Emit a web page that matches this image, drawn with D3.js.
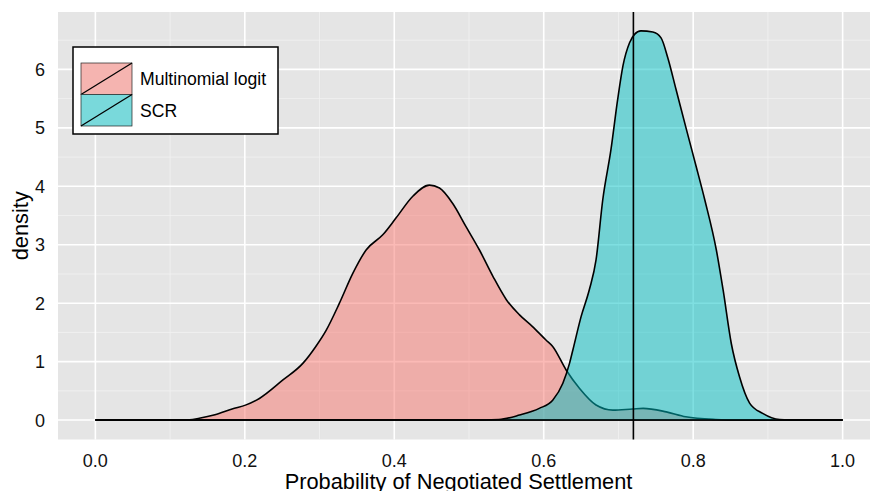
<!DOCTYPE html>
<html>
<head>
<meta charset="utf-8">
<script src="https://cdn.jsdelivr.net/npm/d3@7"></script>
<style>
  html, body { margin: 0; padding: 0; background: #fff; }
  svg { display: block; }
</style>
</head>
<body>
<svg id="chart" width="870" height="491"></svg>
<script>
// Density of predicted probability of negotiated settlement, two models
const seriesNames = ['Multinomial logit', 'SCR'];
const seriesColors = ['#F8766D', '#00BFC4'];

const mlX = [0, 0.10, 0.126, 0.139, 0.16, 0.183, 0.2017, 0.2195, 0.251, 0.2776, 0.295, 0.309,
  0.3266, 0.3445, 0.3623, 0.3846, 0.4025, 0.4248, 0.447, 0.4605, 0.478, 0.496, 0.514, 0.532,
  0.550, 0.5676, 0.585, 0.603, 0.612, 0.630, 0.648, 0.670, 0.6925, 0.719, 0.733, 0.764, 0.79,
  0.83, 0.86, 1.0];
const mlY = [0, 0, 0.005, 0.03, 0.09, 0.19, 0.26, 0.37, 0.686, 0.97, 1.26, 1.54,
  2.0, 2.51, 2.91, 3.17, 3.46, 3.83, 4.02, 3.97, 3.71, 3.31, 2.91, 2.46,
  2.06, 1.8, 1.6, 1.37, 1.26, 0.857, 0.54, 0.257, 0.17, 0.19, 0.20, 0.14, 0.057,
  0.01, 0, 0];

const scrX = [0, 0.50, 0.54, 0.5676, 0.594, 0.612, 0.6256, 0.6345, 0.639, 0.650, 0.661, 0.670,
  0.679, 0.690, 0.699, 0.706, 0.715, 0.7215, 0.730, 0.746, 0.757, 0.766, 0.777, 0.791, 0.804,
  0.8155, 0.831, 0.840, 0.851, 0.862, 0.8755, 0.893, 0.9157, 0.94, 1.0];
const scrY = [0, 0, 0.01, 0.086, 0.2, 0.34, 0.63, 0.97, 1.2, 1.77, 2.23, 2.74,
  3.77, 4.63, 5.49, 6.06, 6.46, 6.6, 6.66, 6.64, 6.54, 6.2, 5.66, 4.97, 4.34,
  3.77, 2.91, 2.23, 1.31, 0.74, 0.29, 0.114, 0.01, 0, 0];

const refLine = 0.72;

const xTicks = [0, 0.2, 0.4, 0.6, 0.8, 1.0];
const xMinor = [0.1, 0.3, 0.5, 0.7, 0.9];
const yTicks = [0, 1, 2, 3, 4, 5, 6];
const yMinor = [0.5, 1.5, 2.5, 3.5, 4.5, 5.5, 6.5];

const xTitle = 'Probability of Negotiated Settlement';
const yTitle = 'density';

(function() {
    const svg = d3.select('#chart');
    const panel = { left: 58, top: 12, right: 880, bottom: 439.5 };

    const x = d3.scaleLinear().domain([-0.05, 1.05]).range([panel.left, panel.right]);
    const ymax = 6.65;
    const y = d3.scaleLinear().domain([-0.05 * ymax, ymax * 1.05]).range([panel.bottom, panel.top]);

    // panel background
    svg.append('rect')
        .attr('x', panel.left).attr('y', panel.top)
        .attr('width', panel.right - panel.left).attr('height', panel.bottom - panel.top)
        .attr('fill', '#E5E5E5');

    // grid
    const grid = svg.append('g');
    xMinor.forEach(function(v) {
        grid.append('line').attr('x1', x(v)).attr('x2', x(v))
            .attr('y1', panel.top).attr('y2', panel.bottom)
            .attr('stroke', '#F2F2F2').attr('stroke-width', 0.8);
    });
    yMinor.forEach(function(v) {
        grid.append('line').attr('y1', y(v)).attr('y2', y(v))
            .attr('x1', panel.left).attr('x2', panel.right)
            .attr('stroke', '#F2F2F2').attr('stroke-width', 0.8);
    });
    xTicks.forEach(function(v) {
        grid.append('line').attr('x1', x(v)).attr('x2', x(v))
            .attr('y1', panel.top).attr('y2', panel.bottom)
            .attr('stroke', '#fff').attr('stroke-width', 1.6);
    });
    yTicks.forEach(function(v) {
        grid.append('line').attr('y1', y(v)).attr('y2', y(v))
            .attr('x1', panel.left).attr('x2', panel.right)
            .attr('stroke', '#fff').attr('stroke-width', 1.6);
    });

    // densities: filled area, then outline (curve + baseline); SCR drawn last
    const area = d3.area()
        .x(function(d) { return x(d[0]); })
        .y0(y(0))
        .y1(function(d) { return y(d[1]); })
        .curve(d3.curveMonotoneX);

    const line = d3.line()
        .x(function(d) { return x(d[0]); })
        .y(function(d) { return y(d[1]); })
        .curve(d3.curveMonotoneX);

    const series = [
        d3.zip(mlX, mlY),
        d3.zip(scrX, scrY),
    ];

    series.forEach(function(pts, i) {
        svg.append('path').datum(pts)
            .attr('d', area)
            .attr('fill', seriesColors[i])
            .attr('fill-opacity', 0.5)
            .attr('stroke', 'none');
        svg.append('path').datum(pts)
            .attr('d', line)
            .attr('fill', 'none')
            .attr('stroke', '#000')
            .attr('stroke-width', 1.6);
        svg.append('line')
            .attr('x1', x(pts[0][0])).attr('x2', x(pts[pts.length - 1][0]))
            .attr('y1', y(0)).attr('y2', y(0))
            .attr('stroke', '#000').attr('stroke-width', 1.6);
    });

    // reference line
    svg.append('line')
        .attr('x1', x(refLine)).attr('x2', x(refLine))
        .attr('y1', panel.top).attr('y2', panel.bottom)
        .attr('stroke', '#000').attr('stroke-width', 1.6);

    // axes text
    const font = '"Liberation Sans", Arial, Helvetica, sans-serif';
    const axisG = svg.append('g').attr('font-family', font).attr('fill', '#111');
    xTicks.forEach(function(v) {
        axisG.append('text')
            .attr('x', x(v)).attr('y', 467)
            .attr('text-anchor', 'middle')
            .attr('font-size', 18)
            .text(d3.format('.1f')(v));
    });
    yTicks.forEach(function(v) {
        axisG.append('text')
            .attr('x', 45).attr('y', y(v))
            .attr('dy', '0.36em')
            .attr('text-anchor', 'end')
            .attr('font-size', 18)
            .text(v);
    });
    axisG.append('text')
        .attr('x', 458.5).attr('y', 488.5)
        .attr('text-anchor', 'middle')
        .attr('font-size', 21.8)
        .attr('fill', '#000')
        .text(xTitle);
    axisG.append('text')
        .attr('transform', 'translate(28,' + ((panel.top + panel.bottom) / 2) + ') rotate(-90)')
        .attr('text-anchor', 'middle')
        .attr('font-size', 21.8)
        .attr('fill', '#000')
        .text(yTitle);

    // legend
    const lg = svg.append('g');
    lg.append('rect')
        .attr('x', 73).attr('y', 47).attr('width', 205).attr('height', 87)
        .attr('fill', '#fff').attr('stroke', '#000').attr('stroke-width', 1.5);
    seriesNames.forEach(function(name, i) {
        const kx = 81, ky = 63 + i * 31.5, kw = 51, kh = 31.5;
        lg.append('rect')
            .attr('x', kx).attr('y', ky).attr('width', kw).attr('height', kh)
            .attr('fill', '#F2F2F2');
        lg.append('rect')
            .attr('x', kx).attr('y', ky).attr('width', kw).attr('height', kh)
            .attr('fill', seriesColors[i]).attr('fill-opacity', 0.5)
            .attr('stroke', '#222').attr('stroke-width', 0.7);
        lg.append('line')
            .attr('x1', kx).attr('y1', ky + kh).attr('x2', kx + kw).attr('y2', ky)
            .attr('stroke', '#000').attr('stroke-width', 1.3);
        lg.append('text')
            .attr('x', 140).attr('y', ky + kh / 2)
            .attr('dy', '0.36em')
            .attr('font-family', font)
            .attr('font-size', 17.6)
            .attr('fill', '#000')
            .text(name);
    });
})();
</script>
</body>
</html>
